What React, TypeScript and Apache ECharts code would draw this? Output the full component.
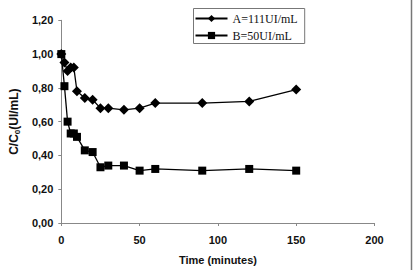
import React, { useEffect, useRef } from "react";
import * as echarts from "echarts";

const times = [0, 2, 4, 6, 8, 10, 15, 20, 25, 30, 40, 50, 60, 90, 120, 150];
const seriesA = [1.0, 0.95, 0.9, 0.92, 0.92, 0.78, 0.74, 0.73, 0.68, 0.68, 0.67, 0.68, 0.71, 0.71, 0.72, 0.79];
const seriesB = [1.0, 0.81, 0.6, 0.53, 0.53, 0.51, 0.43, 0.42, 0.33, 0.34, 0.34, 0.31, 0.32, 0.31, 0.32, 0.31];
const nameA = "A=111UI/mL";
const nameB = "B=50UI/mL";

export default function App() {
  const ref = useRef<HTMLDivElement>(null);
  useEffect(() => {
    if (!ref.current) return;
    const chart = echarts.init(ref.current, null, { renderer: "svg" });
    const labelFont = { fontFamily: "Liberation Sans, Arial, sans-serif", fontWeight: "bold" as const, fontSize: 11, color: "#111" };
    chart.setOption({
      animation: false,
      backgroundColor: "#fff",
      grid: { left: 59.5, right: 38.5, top: 20.3, bottom: 46.7, containLabel: false },
      legend: {
        orient: "vertical",
        left: 193.5,
        top: 8.5,
        padding: [4, 7, 2, 1],
        itemGap: 5,
        itemWidth: 32,
        itemHeight: 9,
        borderColor: "#777",
        borderWidth: 1,
        textStyle: { fontFamily: "Liberation Serif, Times New Roman, serif", fontSize: 12, color: "#111" },
        data: [nameA, nameB],
      },
      xAxis: {
        type: "value",
        min: 0,
        max: 200,
        interval: 50,
        name: "Time (minutes)",
        nameLocation: "middle",
        nameGap: 31,
        nameTextStyle: { ...labelFont, fontSize: 11 },
        axisLine: { show: true, lineStyle: { color: "#888", width: 1 } },
        axisTick: { show: true, length: 3, lineStyle: { color: "#888" } },
        axisLabel: { ...labelFont, margin: 11 },
        splitLine: { show: false },
      },
      yAxis: {
        type: "value",
        min: 0,
        max: 1.2,
        interval: 0.2,
        name: "C/C{sub|0}(UI/mL)",
        nameLocation: "middle",
        nameGap: 38,
        nameTextStyle: {
          ...labelFont,
          fontSize: 12,
          rich: {
            sub: { ...labelFont, fontSize: 8, verticalAlign: "bottom", padding: [6, 0, 0, 0] },
          },
        },
        axisLine: { show: true, lineStyle: { color: "#888", width: 1 } },
        axisTick: { show: true, length: 3, lineStyle: { color: "#888" } },
        axisLabel: {
          ...labelFont,
          margin: 8,
          formatter: (v: number) => v.toFixed(2).replace(".", ","),
        },
        splitLine: { show: false },
      },
      graphic: [
        {
          type: "line",
          shape: { x1: 411.5, y1: 0, x2: 411.5, y2: 270 },
          style: { stroke: "#777", lineWidth: 1.5 },
        },
      ],
      series: [
        {
          name: nameA,
          type: "line",
          data: times.map((t, i) => [t, seriesA[i]]),
          symbol: "diamond",
          symbolSize: 10,
          itemStyle: { color: "#000" },
          lineStyle: { color: "#000", width: 1.3 },
        },
        {
          name: nameB,
          type: "line",
          data: times.map((t, i) => [t, seriesB[i]]),
          symbol: "rect",
          symbolSize: 8,
          itemStyle: { color: "#000" },
          lineStyle: { color: "#000", width: 1.3 },
        },
      ],
    });
    return () => chart.dispose();
  }, []);
  return (
    <div
      ref={ref}
      style={{ position: "absolute", left: 0, top: 0, width: 413, height: 270 }}
    />
  );
}
